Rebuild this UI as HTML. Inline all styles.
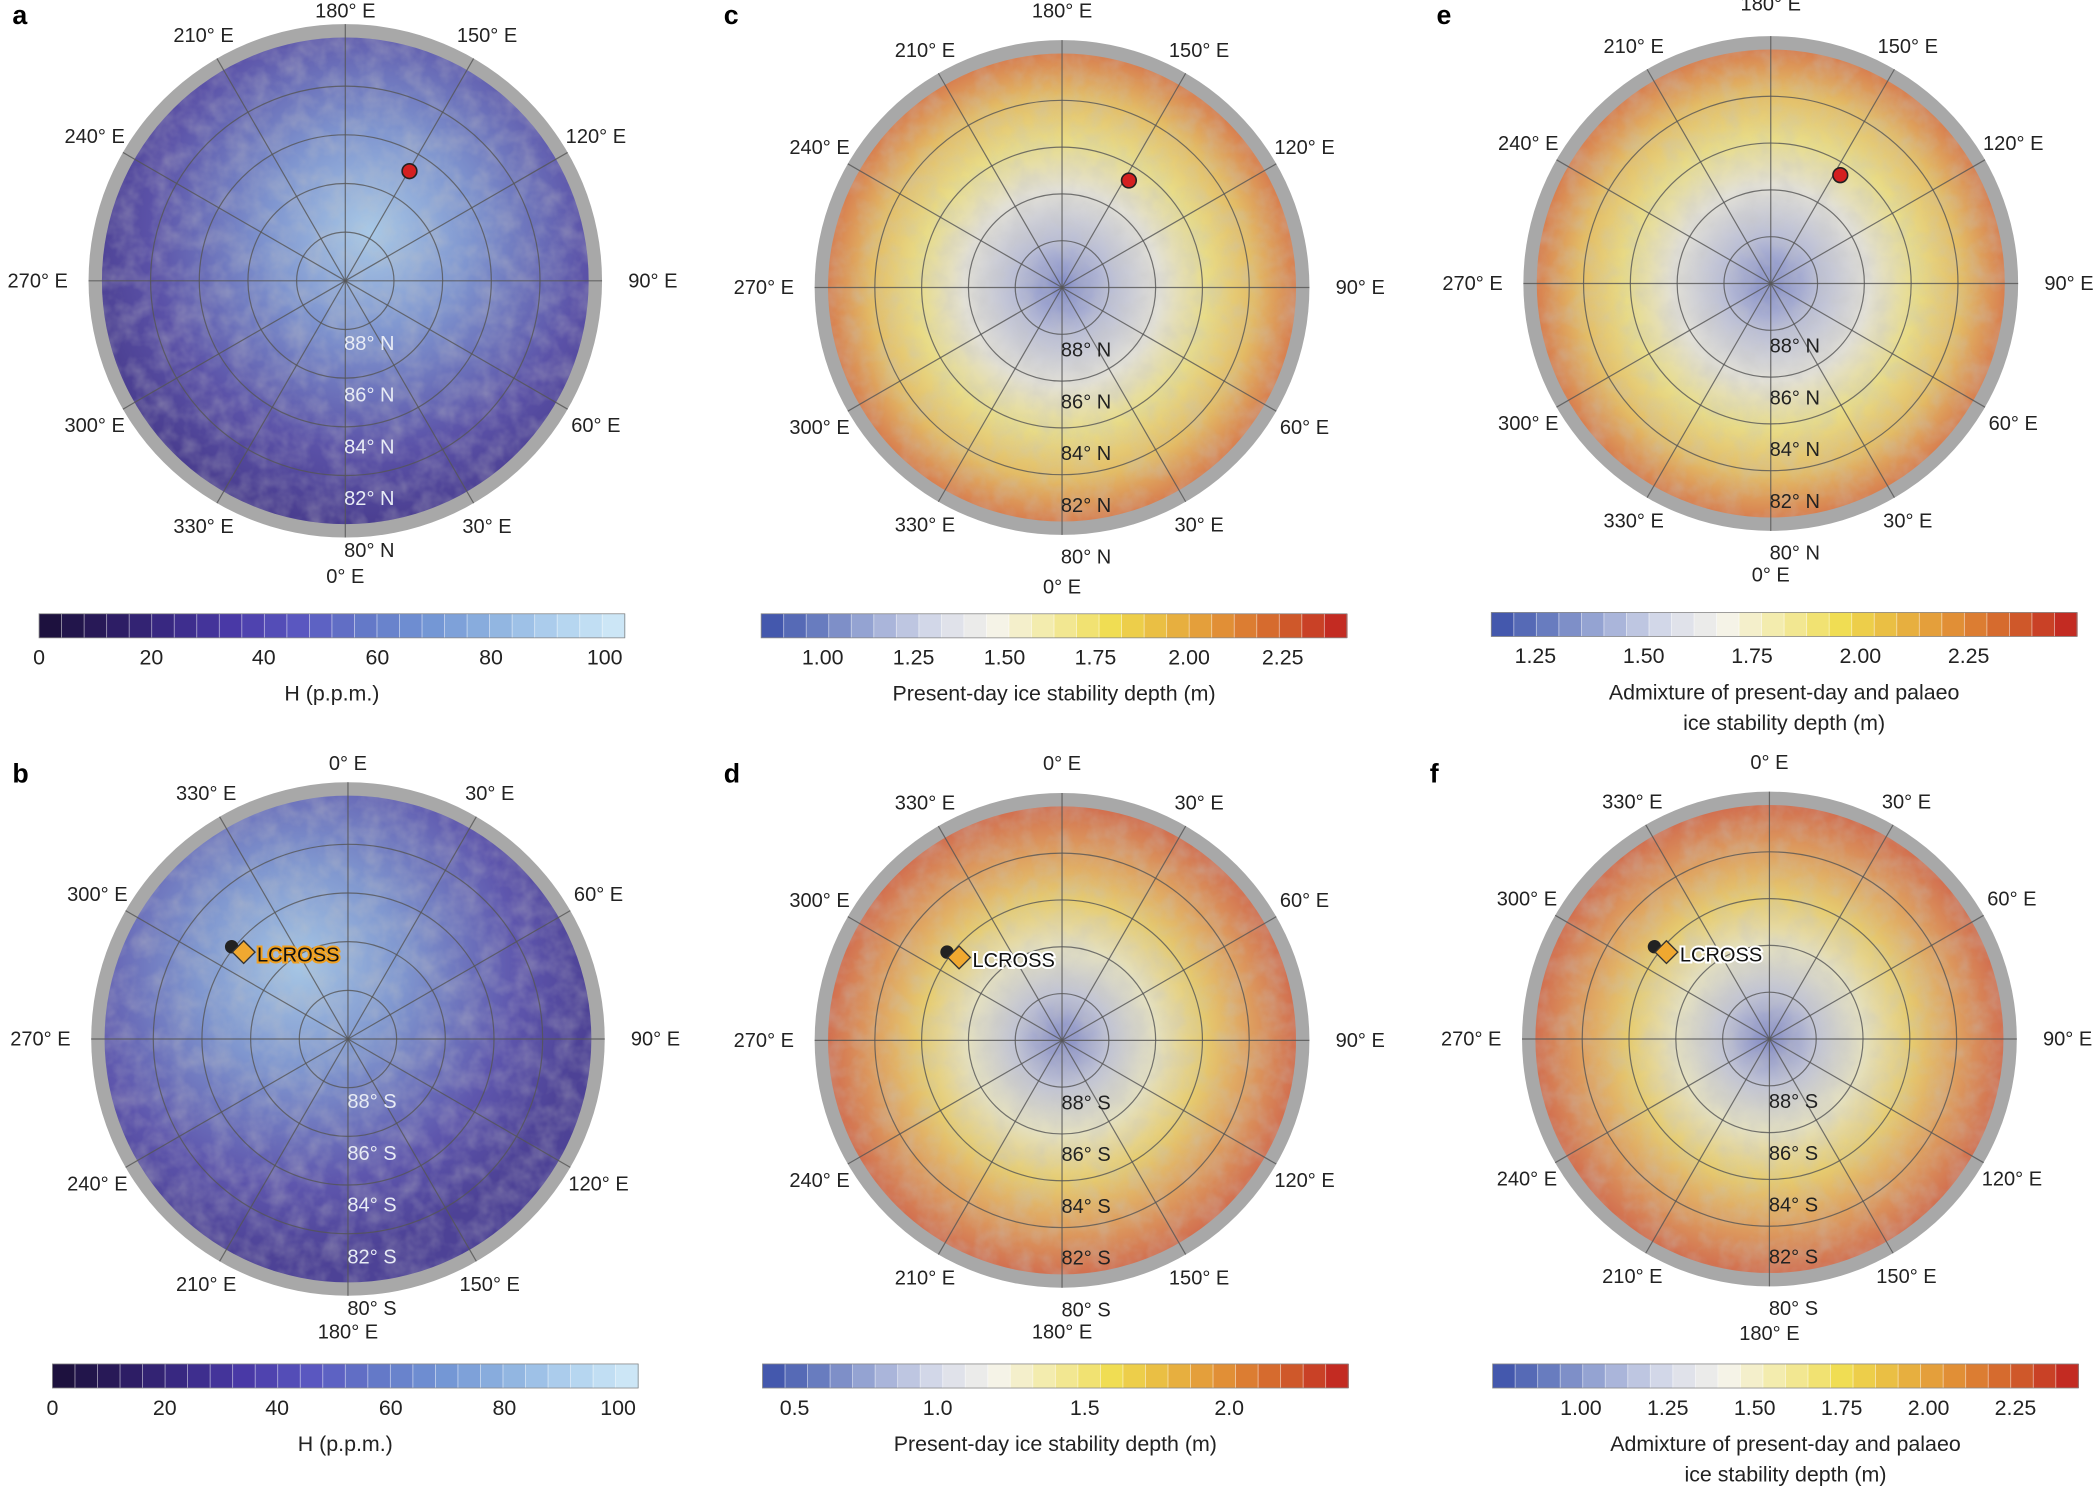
<!DOCTYPE html>
<html><head><meta charset="utf-8"><style>
html,body{margin:0;padding:0;background:#fff}
svg{display:block}
text{font-family:"Liberation Sans",sans-serif}
</style></head><body>
<svg id="s" width="2100" height="1495" viewBox="0 0 1568 1118" xmlns="http://www.w3.org/2000/svg">
<defs>
<radialGradient id="gH" cx="0.55" cy="0.4" r="0.6">
<stop offset="0" stop-color="#a9c9e6"/><stop offset="0.35" stop-color="#7f95cf"/><stop offset="0.75" stop-color="#5b52a8"/><stop offset="1" stop-color="#4a3e90"/></radialGradient>
<radialGradient id="gH2" cx="0.4" cy="0.35" r="0.6">
<stop offset="0" stop-color="#a6c6e4"/><stop offset="0.35" stop-color="#8097cf"/><stop offset="0.75" stop-color="#5e56ad"/><stop offset="1" stop-color="#4d4296"/></radialGradient>
<radialGradient id="gI" cx="0.5" cy="0.5" r="0.5">
<stop offset="0" stop-color="#7e88c6"/><stop offset="0.2" stop-color="#b9bdd6"/><stop offset="0.42" stop-color="#e2e0d6"/><stop offset="0.62" stop-color="#e8dc88"/><stop offset="0.82" stop-color="#e3bc66"/><stop offset="1" stop-color="#d88050"/></radialGradient>
<radialGradient id="gI2" cx="0.5" cy="0.5" r="0.5">
<stop offset="0" stop-color="#8088c4"/><stop offset="0.2" stop-color="#c0c3d5"/><stop offset="0.4" stop-color="#e4e0c0"/><stop offset="0.6" stop-color="#e6cc70"/><stop offset="0.8" stop-color="#dea060"/><stop offset="1" stop-color="#d27050"/></radialGradient>
<filter id="tx" x="0" y="0" width="1" height="1"><feTurbulence type="fractalNoise" baseFrequency="0.07" numOctaves="3" seed="3"/><feColorMatrix type="matrix" values="0 0 0 0 0.55 0 0 0 0 0.55 0 0 0 0 0.55 1.2 0 0 0 -0.4"/></filter>
</defs>
</svg>
<script>
const s=document.getElementById('s');const NS='http://www.w3.org/2000/svg';
function el(t,a,txt,par){const e=document.createElementNS(NS,t);for(const k in a)e.setAttribute(k,a[k]);if(txt!==undefined&&txt!==null)e.textContent=txt;(par||s).appendChild(e);return e;}
let pid=0;
function panel(cx,cy,R,fill,north,latCol,topD,botD){
 const r=R-10;pid++;
 const defs=s.querySelector('defs');
 const cp=el('clipPath',{id:'cp'+pid},null,defs);el('circle',{cx,cy,r},null,cp);
 el('circle',{cx,cy,r:R,fill:'#a8a8a8'});
 el('circle',{cx,cy,r,fill:`url(#${fill})`});
 const g=el('g',{"clip-path":`url(#cp${pid})`});
 el('rect',{x:cx-r,y:cy-r,width:2*r,height:2*r,fill:'#888',opacity:0.5,filter:'url(#tx)'},null,g);
 for(let k=1;k<=4;k++)el('circle',{cx,cy,r:r*k/5,fill:'none',stroke:'#555',"stroke-width":0.9,opacity:0.8});
 for(let lon=0;lon<360;lon+=30){
  const th=(north?180-lon:lon)*Math.PI/180;
  const sx=Math.sin(th),sy=-Math.cos(th);
  el('line',{x1:cx,y1:cy,x2:cx+sx*R,y2:cy+sy*R,stroke:'#555',"stroke-width":0.9,opacity:0.8});
  let x,y;
  if(sy<-0.99){x=cx;y=cy-topD;}
  else if(sy>0.99){x=cx;y=cy+botD;}
  else{const d=R+14+12*Math.abs(sx);x=cx+sx*d+(Math.abs(sx)>0.9?sx*12:0);y=cy+sy*d+5;}
  el('text',{x,y,"font-size":15,"text-anchor":"middle",fill:'#222'},lon+'° E');
 }
 const h=north?'N':'S';
 [88,86,84,82].forEach((v,i)=>el('text',{x:cx+18,y:cy+13+(i+1)*38.7,"font-size":15,"text-anchor":"middle",fill:latCol},v+'° '+h));
 el('text',{x:cx+18,y:cy+13+5*38.7,"font-size":15,"text-anchor":"middle",fill:'#222'},'80° '+h);
}
panel(257,210,192,'gH',true,'#e8ecf5',197,226);
panel(259,777,192,'gH2',false,'#e8ecf5',201,224);
panel(793,215,185,'gI',true,'#222',202,229);
panel(793,778,185,'gI2',false,'#222',202,223);
panel(1323,212,185,'gI',true,'#222',204,223);
panel(1322,777,185,'gI2',false,'#222',202,225);
[[8,18,'a'],[8,585,'b'],[540,18,'c'],[540,585,'d'],[1073,18,'e'],[1068,585,'f']].forEach(p=>el('text',{x:p[0],y:p[1],"font-size":20,"font-weight":"bold",fill:'#000'},p[2]));
[[305,128],[843,135],[1375,131]].forEach(p=>el('circle',{cx:p[0],cy:p[1],r:5.5,fill:'#d42020',stroke:'#222',"stroke-width":1.2}));
[[181,712,'#f0a020'],[716,716,'#fff'],[1245,712,'#fff']].forEach(p=>{
 el('circle',{cx:p[0]-9,cy:p[1]-4,r:5,fill:'#222'});
 el('rect',{x:p[0]-6,y:p[1]-6,width:12,height:12,fill:'#f0a830',stroke:'#333',"stroke-width":1,transform:`rotate(45 ${p[0]} ${p[1]})`});
 el('text',{x:p[0]+10,y:p[1]+7,"font-size":15,fill:'#111',stroke:p[2],"stroke-width":3,"paint-order":"stroke"},'LCROSS');
});
const pur=['#1a0f38','#2a1a5c','#3a2a85','#4a3aa8','#5a58c0','#6478c8','#7295d4','#8fb3e0','#b2d3ef','#d2eaf8'];
const div=['#3b4fa8','#6a7ec0','#a4b0d8','#d8dcea','#f5f3ea','#f3eaa0','#f0dc50','#e8b440','#e08a35','#d05a2a','#c02020'];
function lerp(cols,t){const n=cols.length-1;const i=Math.min(n-1,Math.floor(t*n));const f=t*n-i;
 const a=cols[i],b=cols[i+1];const c=j=>Math.round(parseInt(a.substr(1+2*j,2),16)*(1-f)+parseInt(b.substr(1+2*j,2),16)*f);return `rgb(${c(0)},${c(1)},${c(2)})`;}
function cbar(x0,x1,y,cols,ticks,titles){
 const N=26,w=(x1-x0)/N;
 for(let i=0;i<N;i++){el('rect',{x:x0+i*w,y,width:w+0.5,height:18,fill:lerp(cols,(i+0.5)/N)});
  if(i>0)el('line',{x1:x0+i*w,y1:y,x2:x0+i*w,y2:y+18,stroke:'#fff',"stroke-width":0.6,opacity:0.6});}
 el('rect',{x:x0,y,width:x1-x0,height:18,fill:'none',stroke:'#888',"stroke-width":0.6});
 ticks.forEach(t=>el('text',{x:t[0],y:y+38,"font-size":16,"text-anchor":"middle",fill:'#222'},t[1]));
 titles.forEach((t,i)=>el('text',{x:(x0+x1)/2,y:y+65+i*23,"font-size":16,"text-anchor":"middle",fill:'#222'},t));
}
const T1=['Admixture of present-day and palaeo','ice stability depth (m)'];
cbar(28,466,459,pur,[[28,'0'],[112,'20'],[196,'40'],[281,'60'],[366,'80'],[451,'100']],['H (p.p.m.)']);
cbar(38,476,1020,pur,[[38,'0'],[122,'20'],[206,'40'],[291,'60'],[376,'80'],[461,'100']],['H (p.p.m.)']);
cbar(568,1006,459,div,[[614,'1.00'],[682,'1.25'],[750,'1.50'],[818,'1.75'],[888,'2.00'],[958,'2.25']],['Present-day ice stability depth (m)']);
cbar(569,1007,1020,div,[[593,'0.5'],[700,'1.0'],[810,'1.5'],[918,'2.0']],['Present-day ice stability depth (m)']);
cbar(1114,1552,458,div,[[1147,'1.25'],[1228,'1.50'],[1309,'1.75'],[1390,'2.00'],[1471,'2.25']],T1);
cbar(1115,1553,1020,div,[[1181,'1.00'],[1246,'1.25'],[1311,'1.50'],[1376,'1.75'],[1441,'2.00'],[1506,'2.25']],T1);
</script>
</body></html>
